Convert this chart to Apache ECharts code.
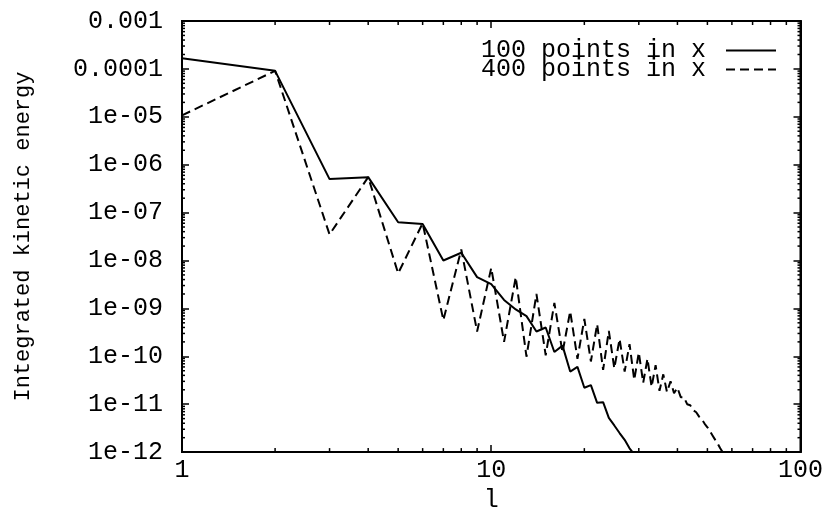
<!DOCTYPE html>
<html>
<head>
<meta charset="utf-8">
<script src="https://cdn.jsdelivr.net/npm/echarts@6/dist/echarts.min.js"></script>
<style>
html,body{margin:0;padding:0;background:#fff;}
#chart{width:826px;height:518px;}
</style>
</head>
<body>
<div id="chart"></div>
<script>
// ---- data ----
const l100 = [1,2,3,4,5,6,7,8,9,10,11,12,13,14,15,16,17,18,19,20,21,22,23,24,25,26,27,28,29,30];
const energy100 = [1.66e-4,9.1e-5,5.0e-7,5.5e-7,6.3e-8,5.8e-8,1.0e-8,1.45e-8,4.5e-9,3.2e-9,
  1.5e-9,9.5e-10,6.9e-10,3.3e-10,4.0e-10,1.23e-10,1.67e-10,4.8e-11,6.0e-11,2.2e-11,
  2.5e-11,1.07e-11,1.1e-11,5.2e-12,3.6e-12,2.5e-12,1.8e-12,1.2e-12,9e-13,7e-13];

const l400 = [1,2,3,4,5,6,7,8,9,10,11,12,13,14,15,16,17,18,19,20,21,22,23,24,25,26,27,28,29,30,
  31,32,33,34,35,36,37,38,39,40,41,42,43,44,45,46,47,48,49,50,51,52,53,54,55,56,57,58];
const energy400 = [1.07e-5,9.1e-5,3.5e-8,5.5e-7,5.4e-9,6.0e-8,5.7e-10,1.7e-8,3.3e-10,7.0e-9,
  2.0e-10,4.5e-9,9.8e-11,2.0e-9,1.05e-10,1.3e-9,1.2e-10,8.7e-10,8.9e-11,6.0e-10,
  7.8e-11,4.7e-10,5.2e-11,3.4e-10,5.6e-11,2.3e-10,4.8e-11,1.8e-10,3.2e-11,1.2e-10,
  2.8e-11,8.9e-11,2.3e-11,6.5e-11,1.9e-11,4.2e-11,1.8e-11,3.0e-11,1.7e-11,2.2e-11,
  1.4e-11,1.4e-11,1.0e-11,9.5e-12,7.5e-12,6.8e-12,5.5e-12,4.8e-12,3.9e-12,3.3e-12,
  2.7e-12,2.2e-12,1.8e-12,1.5e-12,1.2e-12,1.0e-12,8e-13,6.5e-13];

const seriesNames = ['100 points in x', '400 points in x'];
const yTickLabels = {'-12':'1e-12','-11':'1e-11','-10':'1e-10','-9':'1e-09','-8':'1e-08',
  '-7':'1e-07','-6':'1e-06','-5':'1e-05','-4':'0.0001','-3':'0.001'};
const xMin = 1, xMax = 100, yMin = 1e-12, yMax = 1e-3;
const minorMult = [2,3,4,5,6,7,8,9];

// ---- build ----
const xMinorTicks = [];
for (let d = 1; d < xMax; d *= 10) minorMult.forEach(m => xMinorTicks.push([d * m, yMin]));
const yMinorTicks = [];
for (let e = -12; e < -3; e++) minorMult.forEach(m => yMinorTicks.push([xMin, m * Math.pow(10, e)]));

const FONT = 'Liberation Mono, Courier New, monospace';
const black = '#000';

function zip(a, b) { return a.map((v, i) => [v, b[i]]); }

const chart = echarts.init(document.getElementById('chart'), null, {renderer: 'canvas'});
const commonAxis = {
  axisLine: {show: true, lineStyle: {color: black, width: 2}},
  splitLine: {show: false},
};
function tickLine(x1, y1, x2, y2) {
  return {type: 'line', shape: {x1: x1, y1: y1, x2: x2, y2: y2}, style: {stroke: black, lineWidth: 1.5}};
}
const majorTick = {show: true, inside: true, length: 7, lineStyle: {color: black, width: 1.5}};
chart.setOption({
  backgroundColor: '#fff',
  animation: false,
  grid: {left: 182, right: 24, top: 21, bottom: 58, show: true, borderColor: black, borderWidth: 2},
  legend: {
    data: [{name: seriesNames[0]}, {name: seriesNames[1]}],
    orient: 'vertical', align: 'right', right: 44, top: 33,
    itemWidth: 50, itemHeight: 14, itemGap: -6,
    itemStyle: {opacity: 0},
    textStyle: {fontFamily: FONT, fontSize: 25, color: black, lineHeight: 18, padding: [0, 15, 0, 0]},
    selectedMode: false
  },
  xAxis: [
    Object.assign({}, commonAxis, {
      type: 'log', logBase: 10, min: xMin, max: xMax,
      name: 'l', nameLocation: 'middle', nameGap: 30,
      nameTextStyle: {fontFamily: FONT, fontSize: 25, color: black},
      axisTick: majorTick,
      axisLabel: {fontFamily: FONT, fontSize: 25, color: black, margin: 6}
    }),
    Object.assign({}, commonAxis, {
      type: 'log', logBase: 10, min: xMin, max: xMax, position: 'top',
      axisTick: majorTick,
      axisLabel: {show: false}
    })
  ],
  yAxis: [
    Object.assign({}, commonAxis, {
      type: 'log', logBase: 10, min: yMin, max: yMax, interval: 1, splitNumber: 9,
      name: 'Integrated kinetic energy', nameLocation: 'middle', nameGap: 148, nameRotate: 90,
      nameTextStyle: {fontFamily: FONT, fontSize: 22, color: black},
      axisTick: majorTick,
      axisLabel: {
        fontFamily: FONT, fontSize: 25, color: black, margin: 19,
        formatter: v => yTickLabels[String(Math.round(Math.log10(v)))] || ''
      }
    }),
    Object.assign({}, commonAxis, {
      type: 'log', logBase: 10, min: yMin, max: yMax, interval: 1, splitNumber: 9, position: 'right',
      axisTick: majorTick,
      axisLabel: {show: false}
    })
  ],
  series: [
    {
      name: seriesNames[0], type: 'line', data: zip(l100, energy100),
      symbol: 'none', clip: true,
      lineStyle: {color: black, width: 2, type: 'solid'},
      itemStyle: {color: black}
    },
    {
      name: seriesNames[1], type: 'line', data: zip(l400, energy400),
      symbol: 'none', clip: true,
      lineStyle: {color: black, width: 2, type: [9, 5]},
      itemStyle: {color: black}
    },
    {
      type: 'custom', silent: true, clip: false, z: 10,
      xAxisIndex: 0, yAxisIndex: 0, encode: {x: 0, y: 1},
      data: xMinorTicks,
      renderItem: function (params, api) {
        const b = api.coord([api.value(0), yMin]);
        const t = api.coord([api.value(0), yMax]);
        return {type: 'group', children: [
          tickLine(b[0], b[1], b[0], b[1] - 4),
          tickLine(t[0], t[1], t[0], t[1] + 4)
        ]};
      }
    },
    {
      type: 'custom', silent: true, clip: false, z: 10,
      xAxisIndex: 0, yAxisIndex: 0, encode: {x: 0, y: 1},
      data: yMinorTicks,
      renderItem: function (params, api) {
        const l = api.coord([xMin, api.value(1)]);
        const r = api.coord([xMax, api.value(1)]);
        return {type: 'group', children: [
          tickLine(l[0], l[1], l[0] + 3, l[1]),
          tickLine(r[0], r[1], r[0] - 3, r[1])
        ]};
      }
    }
  ]
});
</script>
</body>
</html>
